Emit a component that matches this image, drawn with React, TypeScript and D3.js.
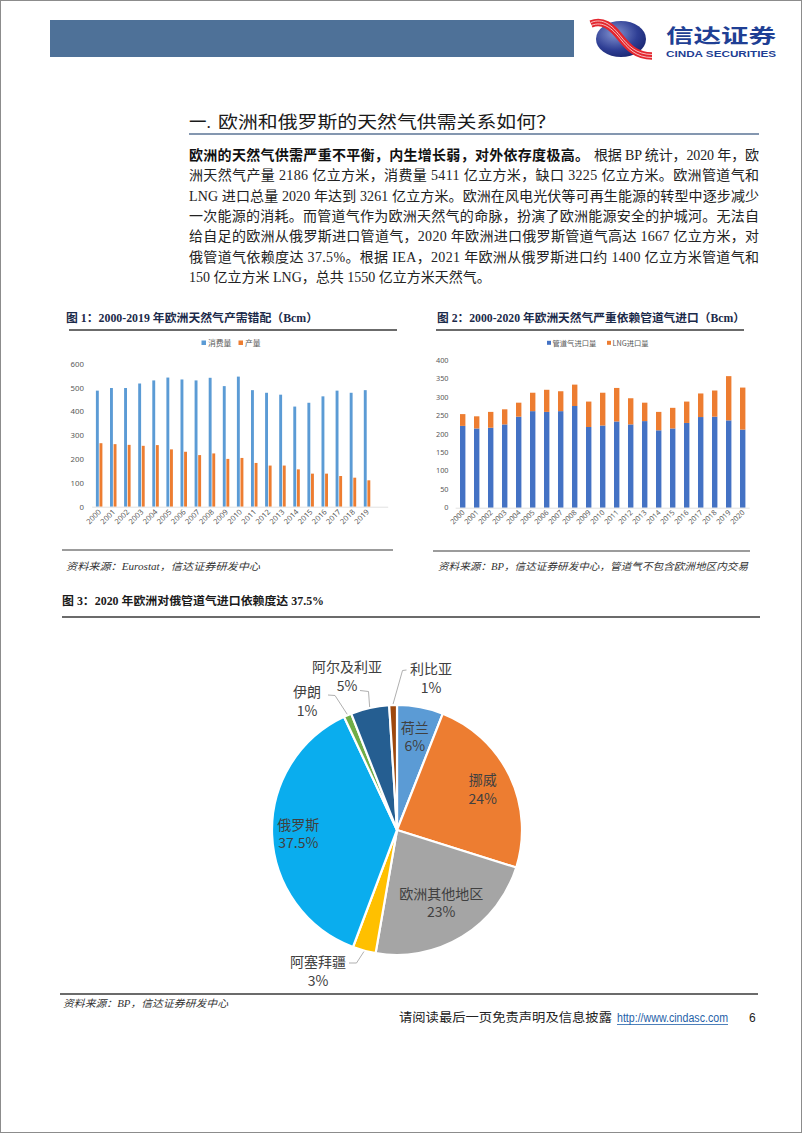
import React from 'react';
import * as d3 from 'd3';

// ---------- DATA ----------
const years1 = ['2000','2001','2002','2003','2004','2005','2006','2007','2008','2009','2010','2011','2012','2013','2014','2015','2016','2017','2018','2019'];
const consumption = [488,499,499,518,531,543,535,531,542,507,547,490,479,471,421,437,464,488,479,490];
const production = [267,263,260,256,259,241,231,217,224,201,205,184,173,173,157,139,139,129,122,111];
const yTicks1 = [0,100,200,300,400,500,600];
const legend1 = ['消费量','产量'];

const years2 = ['2000','2001','2002','2003','2004','2005','2006','2007','2008','2009','2010','2011','2012','2013','2014','2015','2016','2017','2018','2019','2020'];
const pipelineImports = [222,215,217,226,247,262,260,262,276,219,223,234,226,235,210,215,230,246,247,237,212];
const lngImports = [32,33,43,41,38,50,60,54,58,69,89,91,71,50,50,56,58,64,71,120,114];
const yTicks2 = [0,50,100,150,200,250,300,350,400];
const legend2 = ['管道气进口量','LNG进口量'];

const pieNames = ['荷兰','挪威','欧洲其他地区','阿塞拜疆','俄罗斯','伊朗','阿尔及利亚','利比亚'];
const pieShares = [6,24,23,3,37.5,1,5,1];
const pieLabels = ['6%','24%','23%','3%','37.5%','1%','5%','1%'];
const pieColors = ['#5B9BD5','#ED7D31','#A5A5A5','#FFC000','#0AADEE','#70AD47','#255E91','#9E480E'];

const paragraphLines = [
  '洲天然气产量 2186 亿立方米，消费量 5411 亿立方米，缺口 3225 亿立方米。欧洲管道气和',
  'LNG 进口总量 2020 年达到 3261 亿立方米。欧洲在风电光伏等可再生能源的转型中逐步减少',
  '一次能源的消耗。而管道气作为欧洲天然气的命脉，扮演了欧洲能源安全的护城河。无法自',
  '给自足的欧洲从俄罗斯进口管道气，2020 年欧洲进口俄罗斯管道气高达 1667 亿立方米，对',
  '俄管道气依赖度达 37.5%。根据 IEA，2021 年欧洲从俄罗斯进口约 1400 亿立方米管道气和',
  '150 亿立方米 LNG，总共 1550 亿立方米天然气。',
];

// ---------- STYLE / LAYOUT ----------
const SERIF = '"Liberation Serif", "Noto Sans CJK SC", serif';
const SANS = '"Noto Sans CJK SC", "Noto Sans", sans-serif';
const AX = '"Noto Sans", "Noto Sans CJK SC", sans-serif';
const TICK = '#595959';

// outside label layout for small slices (relative to pie centre)
const outsideLayout: Record<string, { lx: number; ly: number; elbow: [number, number]; end: [number, number] }> = {
  '利比亚': { lx: 34, ly: -152, elbow: [5.5, -159.5], end: [9.5, -160] },
  '阿尔及利亚': { lx: -50, ly: -154, elbow: [-28.5, -138.5], end: [-37, -139.5] },
  '伊朗': { lx: -90, ly: -129, elbow: [-62, -134.5], end: [-69, -135] },
  '阿塞拜疆': { lx: -79, ly: 141, elbow: [-40.5, 133], end: [-48, 133] },
};
// inside label radius factor (default 0.76)
const insideRadius: Record<string, number> = { '欧洲其他地区': 0.68, '俄罗斯': 0.79 };

function Chart1() {
  const step = 14.1;
  const x0 = 92.1;
  const x = d3.scaleBand<string>().domain(years1).range([x0, x0 + step * years1.length]).padding(0);
  const y = d3.scaleLinear().domain([0, 600]).range([506.7, 364]);
  const bw = 2.9;
  return (
    <g>
      <text x={66} y={322} fontFamily={SERIF} fontWeight="bold" fontSize={11.5} fill="#1B2A4A" textLength={252} lengthAdjust="spacingAndGlyphs">图 1：2000-2019 年欧洲天然气产需错配（Bcm）</text>
      <line x1={69} x2={397} y1={330} y2={330} stroke="#3A3A3A" strokeWidth={1.4} />
      <rect x={201.5} y={340.5} width={4.5} height={4.5} fill="#5B9BD5" />
      <text x={208} y={346} fontFamily={SANS} fontSize={7.8} fill={TICK}>{legend1[0]}</text>
      <rect x={238.5} y={340.5} width={4.5} height={4.5} fill="#ED7D31" />
      <text x={245} y={346} fontFamily={SANS} fontSize={7.8} fill={TICK}>{legend1[1]}</text>
      {yTicks1.map(t => (
        <text key={t} x={84} y={y(t) + 2.8} textAnchor="end" fontFamily={AX} fontSize={7.8} fill={TICK}>{t}</text>
      ))}
      {years1.map((yr, i) => {
        const c = (x(yr) as number) + x.bandwidth() / 2;
        return (
          <g key={yr}>
            <rect x={c - bw - 0.35} y={y(consumption[i])} width={bw} height={y(0) - y(consumption[i])} fill="#5B9BD5" />
            <rect x={c + 0.35} y={y(production[i])} width={bw} height={y(0) - y(production[i])} fill="#ED7D31" />
            <text transform={`translate(${c + 2.5},${512.5}) rotate(-45)`} textAnchor="end" fontFamily={AX} fontSize={7.5} fill={TICK}>{yr}</text>
          </g>
        );
      })}
      <line x1={x0} x2={x0 + step * (years1.length + 1)} y1={y(0) + 0.5} y2={y(0) + 0.5} stroke="#D9D9D9" strokeWidth={0.8} />
      <line x1={62} x2={393} y1={550} y2={550} stroke="#3A3A3A" strokeWidth={1.2} />
      <text x={66} y={570} fontFamily={SERIF} fontStyle="italic" fontSize={10} fill="#333" textLength={194} lengthAdjust="spacingAndGlyphs">资料来源：Eurostat，信达证券研发中心</text>
    </g>
  );
}

function Chart2() {
  const step = 14;
  const x0 = 455.7;
  const x = d3.scaleBand<string>().domain(years2).range([x0, x0 + step * years2.length]).padding(0);
  const y = d3.scaleLinear().domain([0, 400]).range([507.7, 360.3]);
  const bw = 5.4;
  const stack = d3.stack<number>().keys(['p', 'l']).value((i, k) => (k === 'p' ? pipelineImports[i] : lngImports[i]));
  const series = stack(years2.map((_, i) => i));
  const cols = ['#4472C4', '#ED7D31'];
  return (
    <g>
      <text x={437} y={322} fontFamily={SERIF} fontWeight="bold" fontSize={11.5} fill="#1B2A4A" textLength={308} lengthAdjust="spacingAndGlyphs">图 2：2000-2020 年欧洲天然气严重依赖管道气进口（Bcm）</text>
      <line x1={436} x2={744} y1={330} y2={330} stroke="#3A3A3A" strokeWidth={1.4} />
      <rect x={547} y={340.8} width={4} height={4} fill="#4472C4" />
      <text x={552.5} y={346} fontFamily={SANS} fontSize={7.3} fill={TICK}>{legend2[0]}</text>
      <rect x={607} y={340.8} width={4} height={4} fill="#ED7D31" />
      <text x={612.5} y={346} fontFamily={SANS} fontSize={7.3} fill={TICK}>{legend2[1]}</text>
      {yTicks2.map(t => (
        <text key={t} x={448.5} y={y(t) + 2.6} textAnchor="end" fontFamily={AX} fontSize={7.3} fill={TICK}>{t}</text>
      ))}
      {series.map((s, si) => (
        <g key={si} fill={cols[si]}>
          {s.map((d, i) => {
            const c = (x(years2[i]) as number) + x.bandwidth() / 2;
            return <rect key={i} x={c - bw / 2} y={y(d[1])} width={bw} height={y(d[0]) - y(d[1])} />;
          })}
        </g>
      ))}
      {years2.map(yr => {
        const c = (x(yr) as number) + x.bandwidth() / 2;
        return <text key={yr} transform={`translate(${c + 2.5},${513}) rotate(-45)`} textAnchor="end" fontFamily={AX} fontSize={7.3} fill={TICK}>{yr}</text>;
      })}
      <line x1={x0} x2={x0 + step * years2.length} y1={y(0) + 0.5} y2={y(0) + 0.5} stroke="#D9D9D9" strokeWidth={0.8} />
      <line x1={433} x2={750} y1={551} y2={551} stroke="#3A3A3A" strokeWidth={1.2} />
      <text x={438} y={570} fontFamily={SERIF} fontStyle="italic" fontSize={10} fill="#333" textLength={310} lengthAdjust="spacingAndGlyphs">资料来源：BP，信达证券研发中心，管道气不包含欧洲地区内交易</text>
    </g>
  );
}

function Chart3() {
  const cx = 397, cy = 830, R = 125;
  const pie = d3.pie<number>().sort(null).value(d => d).startAngle(0).endAngle(Math.PI * 2);
  const arcs = pie(pieShares);
  const arc = d3.arc<d3.PieArcDatum<number>>().innerRadius(0).outerRadius(R);
  return (
    <g>
      <text x={62} y={605} fontFamily={SERIF} fontWeight="bold" fontSize={11.5} fill="#1a1a1a" textLength={262} lengthAdjust="spacingAndGlyphs">图 3：2020 年欧洲对俄管道气进口依赖度达 37.5%</text>
      <line x1={62} x2={760} y1={617} y2={617} stroke="#3A3A3A" strokeWidth={1.4} />
      <g transform={`translate(${cx},${cy})`}>
        {arcs.map((a, i) => (
          <path key={i} d={arc(a) as string} fill={pieColors[i]} stroke="#fff" strokeWidth={2.2} strokeLinejoin="round" />
        ))}
        {arcs.map((a, i) => {
          const name = pieNames[i];
          const lay = outsideLayout[name];
          const mid = (a.startAngle + a.endAngle) / 2;
          if (lay) {
            const ex = Math.sin(mid) * (R + 1), ey = -Math.cos(mid) * (R + 1);
            return (
              <g key={name}>
                <polyline points={`${ex},${ey} ${lay.elbow[0]},${lay.elbow[1]} ${lay.end[0]},${lay.end[1]}`} fill="none" stroke="#A6A6A6" strokeWidth={0.9} />
                <text x={lay.lx} y={lay.ly - 4} textAnchor="middle" fontFamily={SANS} fontSize={14} fill="#404040">{name}</text>
                <text x={lay.lx} y={lay.ly + 14.5} textAnchor="middle" fontFamily={SANS} fontSize={14} fill="#404040">{pieLabels[i]}</text>
              </g>
            );
          }
          const lr = (insideRadius[name] ?? 0.76) * R;
          const lx = Math.sin(mid) * lr, ly = -Math.cos(mid) * lr;
          return (
            <g key={name}>
              <text x={lx} y={ly - 4} textAnchor="middle" fontFamily={SANS} fontSize={14} fill="#404040">{name}</text>
              <text x={lx} y={ly + 14.5} textAnchor="middle" fontFamily={SANS} fontSize={14} fill="#404040">{pieLabels[i]}</text>
            </g>
          );
        })}
      </g>
      <line x1={60} x2={758} y1={994} y2={994} stroke="#3A3A3A" strokeWidth={1.3} />
      <text x={63} y={1007} fontFamily={SERIF} fontStyle="italic" fontSize={10} fill="#333" textLength={165} lengthAdjust="spacingAndGlyphs">资料来源：BP，信达证券研发中心</text>
    </g>
  );
}

function Header() {
  return (
    <g>
      <rect x={50} y={20} width={524} height={37} fill="#4E7198" />
      <defs>
        <radialGradient id="logoG" cx="0.38" cy="0.35" r="0.75">
          <stop offset="0" stopColor="#8494D0" />
          <stop offset="0.6" stopColor="#2F3F95" />
          <stop offset="1" stopColor="#16226A" />
        </radialGradient>
      </defs>
      <ellipse cx={621} cy={39} rx={25} ry={18} fill="url(#logoG)" />
      <path d="M591,24 C603,19 612,27 620,37 C628,47 636,56 652,56" fill="none" stroke="#E3262E" strokeWidth={7.5} />
      <path d="M591,22.5 C603,17.5 612,25.5 620,35.5 C628,45.5 636,54.5 652,54.5" fill="none" stroke="#fff" strokeWidth={0.7} />
      <path d="M591,25.5 C603,20.5 612,28.5 620,38.5 C628,48.5 636,57.5 652,57.5" fill="none" stroke="#fff" strokeWidth={0.7} />
      <text x={666} y={42.5} fontFamily={SANS} fontWeight="bold" fontSize={19.5} fill="#1F3F94" textLength={110} lengthAdjust="spacingAndGlyphs">信达证券</text>
      <text x={666} y={56.5} fontFamily='"Liberation Sans", Arial, sans-serif' fontWeight="bold" fontSize={8.8} fill="#1F3F94" textLength={110} lengthAdjust="spacingAndGlyphs">CINDA SECURITIES</text>
    </g>
  );
}

function Body() {
  const left = 189, right = 759;
  return (
    <g>
      <text x={left} y={128} fontFamily={SERIF} fontSize={17.5} fill="#1a1a1a">一.</text>
      <text x={left + 29} y={128} fontFamily={SERIF} fontSize={17.5} fill="#1a1a1a" textLength={338} lengthAdjust="spacingAndGlyphs">欧洲和俄罗斯的天然气供需关系如何？</text>
      <line x1={left} x2={right} y1={134} y2={134} stroke="#8497B0" strokeWidth={2} />
      <text x={left} y={160} fontFamily={SERIF} fontWeight="bold" fontSize={14} fill="#111" textLength={400} lengthAdjust="spacing">欧洲的天然气供需严重不平衡，内生增长弱，对外依存度极高。</text>
      <text x={594} y={160} fontFamily={SERIF} fontSize={14} fill="#222" textLength={right - 594} lengthAdjust="spacing">根据 BP 统计，2020 年，欧</text>
      {paragraphLines.map((t, i) => {
        const last = i === paragraphLines.length - 1;
        return (
          <text key={i} x={left} y={180.3 + i * 20.3} fontFamily={SERIF} fontSize={14} fill="#222"
            {...(last ? {} : { textLength: right - left, lengthAdjust: 'spacing' })}>{t}</text>
        );
      })}
    </g>
  );
}

function Footer() {
  return (
    <g>
      <text x={399} y={1022} fontFamily={SERIF} fontSize={12.5} fill="#222" textLength={213} lengthAdjust="spacingAndGlyphs">请阅读最后一页免责声明及信息披露</text>
      <text x={617} y={1022} fontFamily='"Liberation Sans", Arial, sans-serif' fontSize={12} fill="#1F5FA8" textLength={111} lengthAdjust="spacingAndGlyphs">http://www.cindasc.com</text>
      <line x1={617} x2={728} y1={1024.5} y2={1024.5} stroke="#1F5FA8" strokeWidth={0.8} />
      <text x={749} y={1022} fontFamily='"Liberation Sans", Arial, sans-serif' fontSize={12} fill="#222">6</text>
    </g>
  );
}

export default function App() {
  return (
    <svg width={802} height={1133} viewBox="0 0 802 1133" style={{ position: 'absolute', left: 0, top: 0, background: '#fff' }}>
      <rect x={0} y={0} width={802} height={1133} fill="#fff" />
      <rect x={0.5} y={0.5} width={801} height={1132} fill="none" stroke="#8C8C8C" strokeWidth={1} />
      <Header />
      <Body />
      <Chart1 />
      <Chart2 />
      <Chart3 />
      <Footer />
    </svg>
  );
}
